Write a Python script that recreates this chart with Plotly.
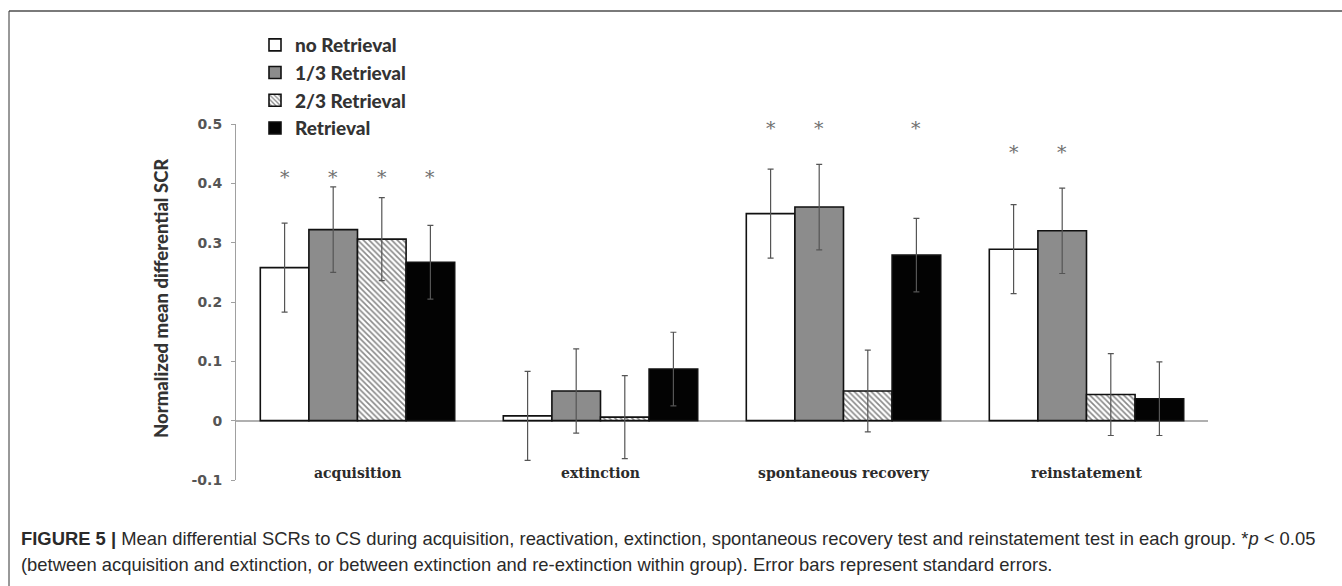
import plotly.graph_objects as go

# ---- data -------------------------------------------------------------
phases = ["acquisition", "extinction", "spontaneous recovery", "reinstatement"]
groups = ["no Retrieval", "1/3 Retrieval", "2/3 Retrieval", "Retrieval"]

no_retrieval = [0.258, 0.008, 0.349, 0.289]
one_third = [0.322, 0.050, 0.360, 0.320]
two_thirds = [0.306, 0.006, 0.050, 0.044]
retrieval = [0.267, 0.087, 0.279, 0.037]

se_no_retrieval = [0.075, 0.075, 0.075, 0.075]
se_one_third = [0.072, 0.071, 0.072, 0.072]
se_two_thirds = [0.070, 0.070, 0.069, 0.069]
se_retrieval = [0.062, 0.062, 0.062, 0.062]

# significance stars: (phase index, group index)
stars = [(0, 0), (0, 1), (0, 2), (0, 3),
         (2, 0), (2, 1), (2, 3),
         (3, 0), (3, 1)]
star_level = {0: 0.418, 2: 0.500, 3: 0.460}

y_ticks = [-0.1, 0, 0.1, 0.2, 0.3, 0.4, 0.5]
y_tick_text = ["-0.1", "0", "0.1", "0.2", "0.3", "0.4", "0.5"]

caption_1 = ("<b>FIGURE 5 |</b> Mean differential SCRs to CS during acquisition, reactivation, "
             "extinction, spontaneous recovery test and reinstatement test in each group. "
             "*<i>p</i> &lt; 0.05")
caption_2 = ("(between acquisition and extinction, or between extinction and re-extinction "
             "within group). Error bars represent standard errors.")

# ---- page geometry ----------------------------------------------------
W, H = 1342, 586
M_L, M_R, M_T, M_B = 236, 134, 124, 106
PW, PH = W - M_L - M_R, H - M_T - M_B


def px_x(x):
    return (x - M_L) / PW


def px_y(y):
    return (H - M_B - y) / PH


values = [no_retrieval, one_third, two_thirds, retrieval]
errors = [se_no_retrieval, se_one_third, se_two_thirds, se_retrieval]
fills = ["#ffffff", "#8c8c8c", "#ffffff", "#030303"]

fig = go.Figure()
for k, name in enumerate(groups):
    pattern = dict(shape="\\", fgcolor="#111111", bgcolor="#ffffff",
                   size=4, solidity=0.4) if k == 2 else dict(shape="")
    fig.add_trace(go.Bar(
        name=name,
        x=list(range(len(phases))),
        y=values[k],
        marker=dict(color=fills[k], line=dict(color="#111111", width=1.6),
                    pattern=pattern),
        error_y=dict(type="data", array=errors[k], visible=True,
                     color="#555555", thickness=1.2, width=3),
    ))

bar_w = 0.8 / len(groups)
annotations = []
for p, g in stars:
    annotations.append(dict(
        x=p + (g - 1.5) * bar_w, y=star_level[p], xref="x", yref="y",
        text="*", showarrow=False, yshift=-4,
        font=dict(family="DejaVu Serif", size=19, color="#707070"),
    ))

for i, ph in enumerate(phases):
    annotations.append(dict(
        x=i, y=px_y(473), xref="x", yref="paper", text=f"<b>{ph}</b>",
        showarrow=False, yanchor="middle",
        font=dict(family="DejaVu Serif", size=14, color="#2b2b2b"),
    ))

annotations.append(dict(
    x=px_x(161), y=px_y(298), xref="paper", yref="paper",
    xanchor="center", yanchor="middle",
    text="Normalized mean differential SCR", textangle=-90,
    showarrow=False,
    font=dict(family="Lato", size=18.5, color="#333333", weight=900),
))

for txt, yy in [(caption_1, 538), (caption_2, 564)]:
    annotations.append(dict(
        x=px_x(19), y=px_y(yy), xref="paper", yref="paper", text=txt,
        xanchor="left", yanchor="middle", showarrow=False,
        font=dict(family="Liberation Sans", size=18.4, color="#2a2a2a"),
    ))

shapes = [
    # figure frame: top rule and left rule
    dict(type="line", xref="paper", yref="paper", x0=px_x(9), x1=px_x(W),
         y0=px_y(11), y1=px_y(11), line=dict(color="#7a7a7a", width=2)),
    dict(type="line", xref="paper", yref="paper", x0=px_x(9), x1=px_x(9),
         y0=px_y(11), y1=px_y(H), line=dict(color="#333333", width=1)),
]

fig.update_layout(
    width=W, height=H,
    margin=dict(l=M_L, r=M_R, t=M_T, b=M_B),
    paper_bgcolor="white", plot_bgcolor="white",
    barmode="group", bargap=0.2, bargroupgap=0,
    xaxis=dict(range=[-0.5, 3.5], showticklabels=False, showgrid=False,
               zeroline=False, showline=False, ticks=""),
    yaxis=dict(range=[-0.1, 0.5], tickvals=y_ticks, ticktext=y_tick_text,
               showgrid=False, zeroline=True, zerolinecolor="#b0b0b0",
               zerolinewidth=1.5, showline=True, linecolor="#a0a0a0",
               linewidth=1, ticks="outside", ticklen=4, tickcolor="#a0a0a0",
               ticklabelstandoff=6,
               tickfont=dict(family="DejaVu Sans", size=14, color="#555555",
                             weight="bold")),
    legend=dict(x=px_x(255), y=px_y(26), xanchor="left", yanchor="top",
                bgcolor="rgba(0,0,0,0)", traceorder="normal",
                font=dict(family="Lato", size=19, color="#333333",
                          weight=900)),
    annotations=annotations,
    shapes=shapes,
    showlegend=True,
)

fig.write_html("out.html")
